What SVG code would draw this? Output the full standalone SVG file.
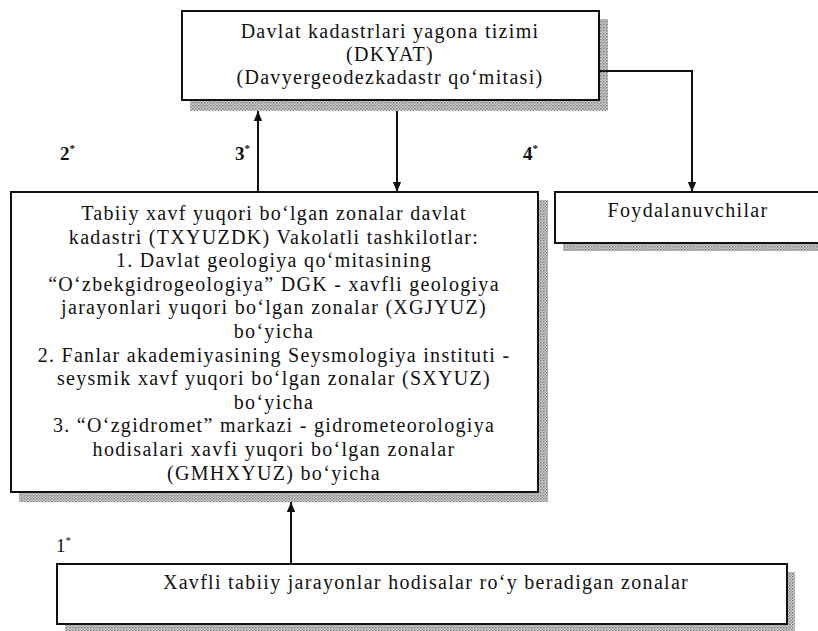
<svg xmlns="http://www.w3.org/2000/svg" width="818" height="631" viewBox="0 0 818 631">
<style>
.box{fill:#fff;stroke:#111;stroke-width:2}
.sh{fill:url(#dots)}
.t{font-family:"Liberation Serif","Times New Roman",serif;font-size:20px;letter-spacing:1.3px;fill:#111;text-anchor:middle}
.lab{font-family:"Liberation Serif","Times New Roman",serif;font-size:19px;fill:#111}
.c{fill:none;stroke:#111;stroke-width:2}
</style>
<defs>
<pattern id="dots" width="3" height="3" patternUnits="userSpaceOnUse">
<rect width="3" height="3" fill="#d6d6d6"/>
<rect width="1.5" height="1.5" fill="#777"/>
<rect x="1.5" y="1.5" width="1.5" height="1.5" fill="#999"/>
</pattern>
<marker id="arr" markerUnits="userSpaceOnUse" markerWidth="10" markerHeight="12" refX="12" refY="5" viewBox="0 0 12 10" orient="auto">
<path d="M0,0 L12,5 L0,10 z" fill="#111"/>
</marker>
</defs>

<g id="dkyat">
<rect class="sh" x="190" y="19" width="418" height="92"/>
<rect class="box" x="182" y="11" width="417" height="89"/>
<text class="t" x="390" y="38">Davlat kadastrlari yagona tizimi</text>
<text class="t" x="390" y="61">(DKYAT)</text>
<text class="t" x="390" y="84">(Davyergeodezkadastr qo‘mitasi)</text>
</g>

<g id="txyuzdk">
<rect class="sh" x="19" y="200" width="529" height="302"/>
<rect class="box" x="11" y="192" width="527" height="300"/>
<text class="t" x="274" y="220">Tabiiy xavf yuqori bo‘lgan zonalar davlat</text>
<text class="t" x="274" y="243.6">kadastri (TXYUZDK) Vakolatli tashkilotlar:</text>
<text class="t" x="274" y="267.2">1. Davlat geologiya qo‘mitasining</text>
<text class="t" x="274" y="290.8">“O‘zbekgidrogeologiya” DGK - xavfli geologiya</text>
<text class="t" x="274" y="314.4">jarayonlari yuqori bo‘lgan zonalar (XGJYUZ)</text>
<text class="t" x="274" y="338">bo‘yicha</text>
<text class="t" x="274" y="361.6">2. Fanlar akademiyasining Seysmologiya instituti -</text>
<text class="t" x="274" y="385.2">seysmik xavf yuqori bo‘lgan  zonalar (SXYUZ)</text>
<text class="t" x="274" y="408.8">bo‘yicha</text>
<text class="t" x="274" y="432.4">3. “O‘zgidromet” markazi - gidrometeorologiya</text>
<text class="t" x="274" y="456">hodisalari xavfi yuqori bo‘lgan zonalar</text>
<text class="t" x="274" y="479.6">(GMHXYUZ) bo‘yicha</text>
</g>

<g id="foydalanuvchilar">
<rect class="sh" x="563" y="200" width="260" height="51"/>
<rect class="box" x="555" y="192" width="270" height="51"/>
<text class="t" x="688" y="217">Foydalanuvchilar</text>
</g>

<g id="zonalar">
<rect class="sh" x="65" y="572" width="730" height="60"/>
<rect class="box" x="57" y="564" width="730" height="60"/>
<text class="t" x="426" y="589">Xavfli tabiiy jarayonlar hodisalar ro‘y beradigan zonalar</text>
</g>

<g id="connectors">
<path class="c" d="M258,192 L258,111" marker-end="url(#arr)"/>
<path class="c" d="M397,111 L397,192" marker-end="url(#arr)"/>
<path class="c" d="M599,71 L692,71 L692,192" marker-end="url(#arr)"/>
<path class="c" d="M291,564 L291,502" marker-end="url(#arr)"/>
</g>

<g id="labels">
<text class="lab" x="60" y="160" font-weight="bold">2<tspan font-size="11" dy="-8">*</tspan></text>
<text class="lab" x="235" y="160" font-weight="bold">3<tspan font-size="11" dy="-8">*</tspan></text>
<text class="lab" x="523" y="160" font-weight="bold">4<tspan font-size="11" dy="-8">*</tspan></text>
<text class="lab" x="56" y="552">1<tspan font-size="11" dy="-8">*</tspan></text>
</g>
</svg>
